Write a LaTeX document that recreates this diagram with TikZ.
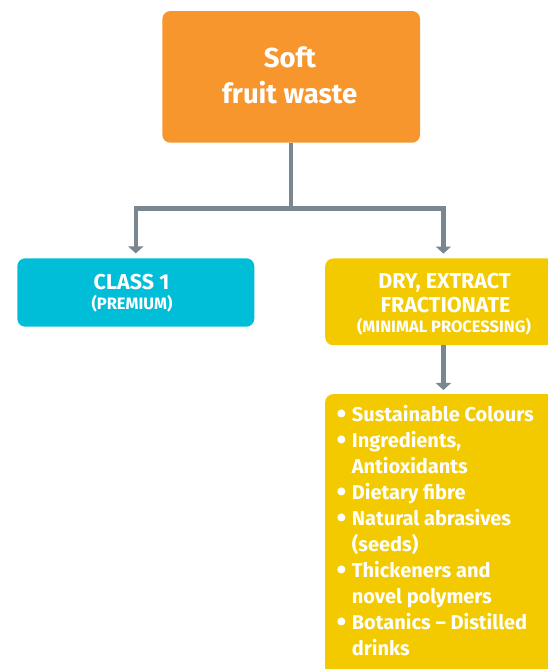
\documentclass[tikz,border=0pt]{standalone}
\usepackage{fontspec}
\setmainfont{Fira Sans}
\usetikzlibrary{arrows.meta,positioning}
\definecolor{orangebox}{HTML}{F7962C}
\definecolor{cyanbox}{HTML}{00BDD8}
\definecolor{yellowbox}{HTML}{F3CA00}
\definecolor{conngrey}{HTML}{7A8791}
\newcommand{\bigbul}{\makebox[15.2pt][l]{\raisebox{-2pt}{\scalebox{1.4}{\textbullet}}}}
\tikzset{
  box/.style={rounded corners=8pt, inner sep=0pt, draw=none},
  lbl/.style={text=white, inner sep=0pt, anchor=base},
  head/.style={lbl, font=\bfseries\fontsize{21.5}{26}\selectfont},
  sub/.style={lbl, font=\bfseries\fontsize{16.5}{20}\selectfont},
  conn/.style={draw=conngrey, line width=4.5pt, -{Triangle[width=15pt,length=7pt]}, shorten >=4.7pt},
  connplain/.style={draw=conngrey, line width=4.5pt}
}
\begin{document}
\begin{tikzpicture}[x=1pt,y=1pt]
\clip (0,0) rectangle (548,669);
\fill[white] (0,0) rectangle (548,669);
% top box
\node[box, fill=orangebox, minimum width=257.7pt, minimum height=131.7pt] (top) at (291.2,592.1) {};
\node[lbl, font=\bfseries\fontsize{27.5}{36}\selectfont] (soft) at (290,601.5) {Soft};
\node[lbl, font=\bfseries\fontsize{27.5}{36}\selectfont] (fruit) at (289.7,565) {fruit waste};
% left box
\node[box, fill=cyanbox, minimum width=237pt, minimum height=68.4pt] (class) at (135.8,376.5) {};
\node[head] (classlbl) at (131.5,379.7) {CLASS 1};
\node[sub] (premium) at (132,359.5) {(PREMIUM)};
% right box
\node[box, fill=yellowbox, minimum width=236.4pt, minimum height=86.7pt, anchor=north west] (dry) at (325,410.7) {};
\node[head] (drylbl) at (444.5,380.7) {DRY, EXTRACT};
\node[head] (fraclbl) at (445.5,356.7) {FRACTIONATE};
\node[sub] (minlbl) at (444,336.3) {(MINIMAL PROCESSING)};
% bottom box
\node[box, fill=yellowbox, minimum width=236.4pt, minimum height=290pt, anchor=north west] (list) at (325,275) {};
\node[anchor=north west, inner sep=0pt, text=white, font=\bfseries\fontsize{20}{26}\selectfont] (listtxt) at (336.5,265.5) {%
\begin{tabular}{@{}l@{}l@{}}
\bigbul & Sustainable Colours\\
\bigbul & Ingredients,\\
 & Antioxidants\\
\bigbul & Dietary fibre\\
\bigbul & Natural abrasives\\
 & (seeds)\\
\bigbul & Thickeners and\\
 & novel polymers\\
\bigbul & Botanics -- Distilled\\
 & drinks
\end{tabular}};
% connectors
\coordinate (j) at (291.2,460.7);
\draw[connplain] (top.south) -- (j);
\draw[conn] ([xshift=2.25pt]j) -| (class.north);
\draw[conn] ([xshift=-2.25pt]j) -| (dry.north);
\draw[conn, shorten >=4pt] (dry.south) -- (list.north);
\end{tikzpicture}
\end{document}
